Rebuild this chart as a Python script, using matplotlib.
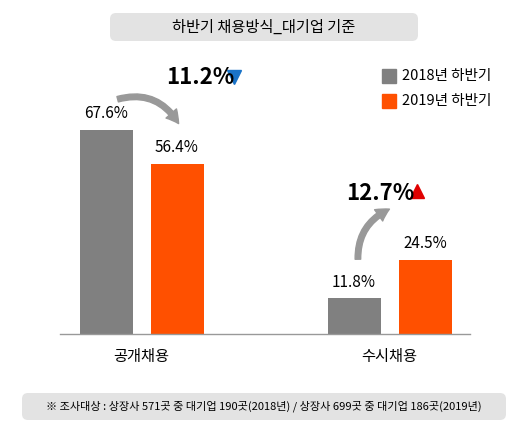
import matplotlib
matplotlib.use("Agg")
import matplotlib.pyplot as plt
from matplotlib.patches import FancyBboxPatch, FancyArrowPatch
plt.rcParams['font.family'] = ['Noto Sans CJK KR', 'DejaVu Sans']

categories = ['공개채용', '수시채용']
series = ['2018년 하반기', '2019년 하반기']
v2018 = [67.6, 11.8]
v2019 = [56.4, 24.5]
changes = ['11.2%', '12.7%']
title = '하반기 채용방식_대기업 기준'
footer = '※ 조사대상 : 상장사 571곳 중 대기업 190곳(2018년) / 상장사 699곳 중 대기업 186곳(2019년)'
c_gray = '#808080'; c_org = '#ff5000'

W, H = 526, 432
fig = plt.figure(figsize=(5.26, 4.32), dpi=100)
base = 334
ax = fig.add_axes([0, (H - base) / H, 1, base / H])
ax.set_xlim(0, W)
ymax = base / 3.02
ax.set_ylim(0, ymax)
ax.axis('off')

centers = [141.5, 389.5]
off, bw = 35.5, 53
xs1 = [c - off for c in centers]; xs2 = [c + off for c in centers]
ax.bar(xs1, v2018, bw, color=c_gray, label=series[0])
ax.bar(xs2, v2019, bw, color=c_org, label=series[1])
for x, v in zip(xs1 + xs2, v2018 + v2019):
    ax.text(x, v + 2.5, f'{v}%', ha='center', va='bottom', fontsize=11)

# overlay axes in pixel coords
ov = fig.add_axes([0, 0, 1, 1]); ov.set_xlim(0, W); ov.set_ylim(H, 0); ov.axis('off')
ov.plot([60, 470], [base, base], color='#999999', lw=1)
for c, lab in zip(centers, categories):
    ov.text(c, 357, lab, ha='center', va='center', fontsize=11)
ov.add_patch(FancyBboxPatch((110, 13), 308, 28, boxstyle='round,pad=0,rounding_size=6', fc='#e3e3e3', ec='none'))
ov.text(264, 27, title, ha='center', va='center', fontsize=11)
ov.add_patch(FancyBboxPatch((22, 393), 484, 27, boxstyle='round,pad=0,rounding_size=6', fc='#e3e3e3', ec='none'))
ov.text(264, 406, footer, ha='center', va='center', fontsize=8)
# legend
for y, col, lab in [(76, c_gray, series[0]), (101, c_org, series[1])]:
    ov.add_patch(plt.Rectangle((382, y - 7), 14, 14, color=col))
    ov.text(402, y, lab, va='center', fontsize=10.5)
# change annotations
ov.text(166, 78, changes[0], va='center', fontsize=16, fontweight='bold')
ov.plot([234], [77], marker='v', color='#1a73c8', ms=10)
ov.text(346, 193, changes[1], va='center', fontsize=16, fontweight='bold')
ov.plot([417], [191], marker='^', color='#e00000', ms=10)
ov.add_patch(FancyArrowPatch((115, 100), (180, 126), connectionstyle='arc3,rad=-0.4',
             arrowstyle='simple,head_width=10,head_length=9,tail_width=4', color='#999999'))
ov.add_patch(FancyArrowPatch((358, 262), (392, 208), connectionstyle='arc3,rad=-0.35',
             arrowstyle='simple,head_width=10,head_length=9,tail_width=4', color='#999999'))
fig.savefig('out.png', dpi=100)
